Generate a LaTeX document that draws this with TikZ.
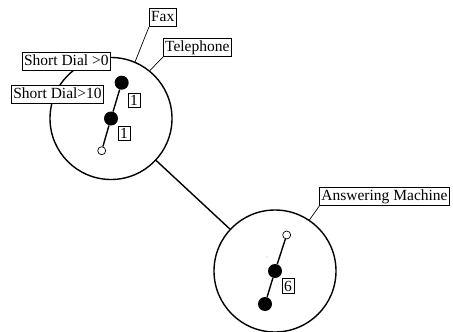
\documentclass[tikz,border=0pt]{standalone}
\usepackage{fontspec}
\setmainfont{Liberation Serif}

\begin{document}
\begin{tikzpicture}[x = 1pt, y = -1pt,
    every node/.style = {font = \rmfamily\fontsize{15.5}{18}\selectfont},
    device/.style = {draw, circle, line width = 1.4pt, minimum size = 122pt, inner sep = 0pt},
    tag/.style = {draw, fill = white, line width = 0.7pt, inner sep = 1.8pt, text height = 11.4pt, text depth = 3.4pt},
    count/.style = {draw, fill = white, line width = 0.7pt, inner sep = 2pt},
    full/.style = {circle, fill = black, minimum size = 14pt, inner sep = 0pt},
    empty/.style = {circle, draw, fill = white, line width = 0.7pt, minimum size = 8pt, inner sep = 0pt},
    leader/.style = {line width = 0.7pt}]
  \useasboundingbox (0,0) rectangle (453,332);

  % the two devices and their link
  \node[device] (tel) at (111,118.5) {};
  \node[device] (ans) at (275,271) {};
  \draw[line width = 1.4pt] (tel) -- (ans);

  % telephone states
  \node[full] (t1) at (121.7,82.7) {};
  \node[full] (t2) at (111,118.5) {};
  \node[empty] (t3) at (101.7,150.7) {};
  \draw[line width = 1.4pt] (t1) -- (t2) -- (t3);
  \node[count] (c1) at (134,100) {1};
  \node[count] (c2) at (124,133.5) {1};

  % answering machine states
  \node[empty] (a1) at (286.7,235) {};
  \node[full] (a2) at (275,271) {};
  \node[full] (a3) at (265,304) {};
  \draw[line width = 1.4pt] (a1) -- (a2) -- (a3);
  \node[count] (c3) at (288,286) {6};
  \fill[gray] (267,257) circle (0.5pt);

  % labels
  \node[tag] (fax) at (162.7,17.5) {Fax};
  \node[tag] (phone) at (197.3,47.5) {Telephone};
  \node[tag] (sd0) at (66.3,61.2) {Short Dial >0};
  \node[tag] (sd10) at (57.5,94.2) {Short Dial>10};
  \node[tag, anchor = south west] (machine) at (319.3,206) {Answering Machine};
  \draw[leader] (fax.south west) -- (tel.67);
  \draw[leader] (phone.south west) -- (tel.51);
  \draw[leader] (machine.south west) -- (ans.56);
\end{tikzpicture}
\end{document}
